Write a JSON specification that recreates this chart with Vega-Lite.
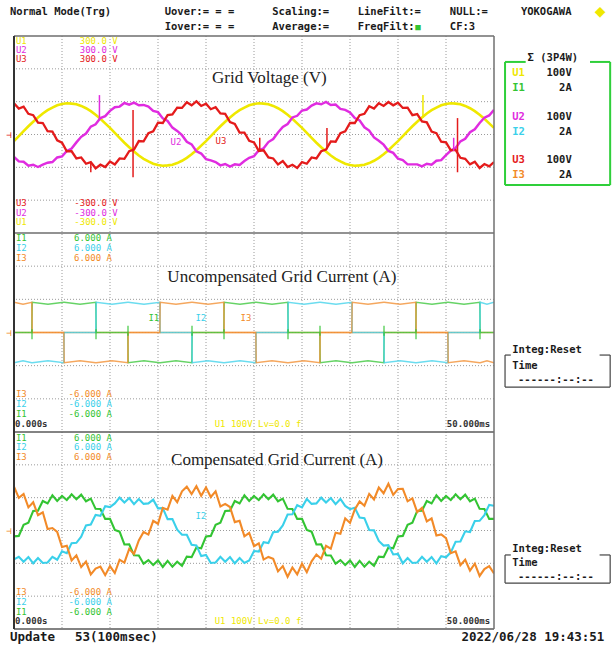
{
"$schema": "https://vega.github.io/schema/vega-lite/v6.json",
"width": 480,
"height": 593,
"autosize": {"type": "none"},
"padding": {"left": 14, "top": 36, "right": 119, "bottom": 18},
"background": "#ffffff",
"config": {"view": {"stroke": null}},
"datasets": {
"volt": [
{"t":0,"U1":-20,"U2":-68,"U3":95},{"t":0.5,"U1":-5,"U2":-82,"U3":79},{"t":1,"U1":10,"U2":-83,"U3":85},{"t":1.5,"U1":25,"U2":-95,"U3":63},{"t":2,"U1":39,"U2":-92,"U3":59},
{"t":2.5,"U1":52,"U2":-99,"U3":36},{"t":3,"U1":64,"U2":-92,"U3":35},{"t":3.5,"U1":74,"U2":-86,"U3":10},{"t":4,"U1":82,"U2":-84,"U3":9},{"t":4.5,"U1":89,"U2":-70,"U3":-18},
{"t":5,"U1":93,"U2":-67,"U3":-25},{"t":5.5,"U1":95,"U2":-50,"U3":-51},{"t":6,"U1":94,"U2":-43,"U3":-51},{"t":6.5,"U1":92,"U2":-24,"U3":-73},{"t":7,"U1":87,"U2":-7,"U3":-70},
{"t":7.5,"U1":80,"U2":3,"U3":-89},{"t":8,"U1":71,"U2":24,"U3":-84},{"t":8.5,"U1":60,"U2":31,"U3":-103},{"t":9,"U1":48,"U2":50,"U3":-92},{"t":9.5,"U1":34,"U2":56,"U3":-99},
{"t":10,"U1":20,"U2":72,"U3":-82},{"t":10.5,"U1":5,"U2":83,"U3":-91},{"t":11,"U1":-10,"U2":85,"U3":-73},{"t":11.5,"U1":-25,"U2":96,"U3":-74},{"t":12,"U1":-39,"U2":91,"U3":-51},
{"t":12.5,"U1":-52,"U2":97,"U3":-46},{"t":13,"U1":-64,"U2":89,"U3":-20},{"t":13.5,"U1":-74,"U2":90,"U3":-21},{"t":14,"U1":-82,"U2":85,"U3":4},{"t":14.5,"U1":-89,"U2":72,"U3":10},
{"t":15,"U1":-93,"U2":68,"U3":36},{"t":15.5,"U1":-95,"U2":49,"U3":35},{"t":16,"U1":-94,"U2":41,"U3":59},{"t":16.5,"U1":-92,"U2":21,"U3":61},{"t":17,"U1":-87,"U2":11,"U3":82},
{"t":17.5,"U1":-80,"U2":-2,"U3":81},{"t":18,"U1":-71,"U2":-22,"U3":98},{"t":18.5,"U1":-60,"U2":-30,"U3":89},{"t":19,"U1":-48,"U2":-51,"U3":101},{"t":19.5,"U1":-34,"U2":-58,"U3":87},
{"t":20,"U1":-20,"U2":-75,"U3":94},{"t":20.5,"U1":-5,"U2":-79,"U3":77},{"t":21,"U1":10,"U2":-84,"U3":83},{"t":21.5,"U1":25,"U2":-94,"U3":64},{"t":22,"U1":39,"U2":-90,"U3":63},
{"t":22.5,"U1":52,"U2":-98,"U3":38},{"t":23,"U1":64,"U2":-91,"U3":32},{"t":23.5,"U1":74,"U2":-93,"U3":6},{"t":24,"U1":82,"U2":-81,"U3":6},{"t":24.5,"U1":89,"U2":-71,"U3":-19},
{"t":25,"U1":93,"U2":-66,"U3":-24},{"t":25.5,"U1":95,"U2":-48,"U3":-50},{"t":26,"U1":94,"U2":-42,"U3":-48},{"t":26.5,"U1":92,"U2":-23,"U3":-70},{"t":27,"U1":87,"U2":-14,"U3":-73},
{"t":27.5,"U1":80,"U2":6,"U3":-91},{"t":28,"U1":71,"U2":23,"U3":-81},{"t":28.5,"U1":60,"U2":32,"U3":-99},{"t":29,"U1":48,"U2":52,"U3":-92},{"t":29.5,"U1":34,"U2":57,"U3":-102},
{"t":30,"U1":20,"U2":73,"U3":-84},{"t":30.5,"U1":5,"U2":76,"U3":-89},{"t":31,"U1":-10,"U2":88,"U3":-70},{"t":31.5,"U1":-25,"U2":95,"U3":-73},{"t":32,"U1":-39,"U2":92,"U3":-51},
{"t":32.5,"U1":-52,"U2":99,"U3":-46},{"t":33,"U1":-64,"U2":90,"U3":-21},{"t":33.5,"U1":-74,"U2":91,"U3":-22},{"t":34,"U1":-82,"U2":78,"U3":4},{"t":34.5,"U1":-89,"U2":75,"U3":10},
{"t":35,"U1":-93,"U2":67,"U3":35},{"t":35.5,"U1":-95,"U2":50,"U3":35},{"t":36,"U1":-94,"U2":43,"U3":59},{"t":36.5,"U1":-92,"U2":22,"U3":63},{"t":37,"U1":-87,"U2":12,"U3":86},
{"t":37.5,"U1":-80,"U2":-9,"U3":79},{"t":38,"U1":-71,"U2":-19,"U3":95},{"t":38.5,"U1":-60,"U2":-31,"U3":87},{"t":39,"U1":-48,"U2":-50,"U3":99},{"t":39.5,"U1":-34,"U2":-56,"U3":89},
{"t":40,"U1":-20,"U2":-74,"U3":97},{"t":40.5,"U1":-5,"U2":-78,"U3":81},{"t":41,"U1":10,"U2":-91,"U3":82},{"t":41.5,"U1":25,"U2":-91,"U3":59},{"t":42,"U1":39,"U2":-91,"U3":62},
{"t":42.5,"U1":52,"U2":-97,"U3":40},{"t":43,"U1":64,"U2":-89,"U3":37},{"t":43.5,"U1":74,"U2":-92,"U3":9},{"t":44,"U1":82,"U2":-80,"U3":4},{"t":44.5,"U1":89,"U2":-78,"U3":-22},
{"t":45,"U1":93,"U2":-63,"U3":-24},{"t":45.5,"U1":95,"U2":-49,"U3":-48},{"t":46,"U1":94,"U2":-41,"U3":-47},{"t":46.5,"U1":92,"U2":-21,"U3":-71},{"t":47,"U1":87,"U2":-13,"U3":-74},
{"t":47.5,"U1":80,"U2":7,"U3":-91},{"t":48,"U1":71,"U2":16,"U3":-83},{"t":48.5,"U1":60,"U2":35,"U3":-102},{"t":49,"U1":48,"U2":51,"U3":-90},{"t":49.5,"U1":34,"U2":58,"U3":-97},
{"t":50,"U1":20,"U2":75,"U3":-84}
],
"comp": [
{"t":0,"I1":-0.36,"I2":-1.76,"I3":2.67},{"t":0.5,"I1":-0.33,"I2":-1.6,"I3":1.99},{"t":1,"I1":0.35,"I2":-1.9,"I3":2.23},{"t":1.5,"I1":0.48,"I2":-1.62,"I3":1.41},{"t":2,"I1":1.19,"I2":-2.0,"I3":1.72},
{"t":2.5,"I1":1.21,"I2":-1.68,"I3":0.93},{"t":3,"I1":1.8,"I2":-1.98,"I3":1.11},{"t":3.5,"I1":1.65,"I2":-1.95,"I3":0.09},{"t":4,"I1":2.15,"I2":-1.6,"I3":0.15},{"t":4.5,"I1":1.8,"I2":-1.78,"I3":-0.09},
{"t":5,"I1":2.1,"I2":-1.27,"I3":-1.01},{"t":5.5,"I1":1.85,"I2":-1.38,"I3":-0.93},{"t":6,"I1":2.2,"I2":-0.77,"I3":-1.82},{"t":6.5,"I1":1.9,"I2":-0.75,"I3":-1.51},{"t":7,"I1":2.18,"I2":-0.38,"I3":-2.23},
{"t":7.5,"I1":1.78,"I2":0.31,"I3":-1.89},{"t":8,"I1":1.94,"I2":0.36,"I3":-2.67},{"t":8.5,"I1":1.32,"I2":0.95,"I3":-2.32},{"t":9,"I1":1.31,"I2":0.89,"I3":-2.2},{"t":9.5,"I1":0.71,"I2":1.48,"I3":-2.72},
{"t":10,"I1":0.71,"I2":1.43,"I3":-2.17},{"t":10.5,"I1":0.03,"I2":1.65,"I3":-2.59},{"t":11,"I1":-0.07,"I2":2.0,"I3":-1.78},{"t":11.5,"I1":-0.85,"I2":1.7,"I3":-1.96},{"t":12,"I1":-0.84,"I2":1.98,"I3":-1.12},
{"t":12.5,"I1":-1.51,"I2":1.6,"I3":-1.43},{"t":13,"I1":-1.52,"I2":1.92,"I3":-0.61},{"t":13.5,"I1":-2.02,"I2":1.62,"I3":-0.09},{"t":14,"I1":-1.8,"I2":1.65,"I3":-0.25},{"t":14.5,"I1":-2.1,"I2":1.88,"I3":0.59},
{"t":15,"I1":-1.82,"I2":1.35,"I3":0.41},{"t":15.5,"I1":-2.22,"I2":1.36,"I3":1.38},{"t":16,"I1":-1.85,"I2":0.69,"I3":1.27},{"t":16.5,"I1":-2.2,"I2":0.69,"I3":2.11},{"t":17,"I1":-1.9,"I2":0.05,"I3":1.73},
{"t":17.5,"I1":-2.15,"I2":-0.26,"I3":2.39},{"t":18,"I1":-1.59,"I2":-0.26,"I3":2.67},{"t":18.5,"I1":-1.62,"I2":-0.87,"I3":2.22},{"t":19,"I1":-1.03,"I2":-0.91,"I3":2.7},{"t":19.5,"I1":-1.08,"I2":-1.56,"I3":2.12},
{"t":20,"I1":-0.36,"I2":-1.49,"I3":2.62},{"t":20.5,"I1":-0.33,"I2":-1.98,"I3":2.04},{"t":21,"I1":0.35,"I2":-1.95,"I3":2.38},{"t":21.5,"I1":0.48,"I2":-1.6,"I3":1.46},{"t":22,"I1":1.19,"I2":-1.9,"I3":1.62},
{"t":22.5,"I1":1.21,"I2":-1.62,"I3":1.43},{"t":23,"I1":1.8,"I2":-2.0,"I3":0.51},{"t":23.5,"I1":1.65,"I2":-1.68,"I3":0.59},{"t":24,"I1":2.15,"I2":-1.98,"I3":-0.35},{"t":24.5,"I1":1.8,"I2":-1.83,"I3":-0.14},
{"t":25,"I1":2.1,"I2":-1.25,"I3":-0.96},{"t":25.5,"I1":1.85,"I2":-1.28,"I3":-0.78},{"t":26,"I1":2.2,"I2":-0.71,"I3":-1.77},{"t":26.5,"I1":1.9,"I2":-0.77,"I3":-1.61},{"t":27,"I1":2.18,"I2":-0.11,"I3":-1.73},
{"t":27.5,"I1":1.78,"I2":-0.07,"I3":-2.49},{"t":28,"I1":1.94,"I2":0.31,"I3":-2.17},{"t":28.5,"I1":1.32,"I2":0.97,"I3":-2.82},{"t":29,"I1":1.31,"I2":0.99,"I3":-2.25},{"t":29.5,"I1":0.71,"I2":1.54,"I3":-2.67},
{"t":30,"I1":0.71,"I2":1.41,"I3":-2.02},{"t":30.5,"I1":0.03,"I2":1.92,"I3":-2.54},{"t":31,"I1":-0.07,"I2":1.62,"I3":-1.88},{"t":31.5,"I1":-0.85,"I2":1.65,"I3":-1.46},{"t":32,"I1":-0.84,"I2":2.0,"I3":-1.72},
{"t":32.5,"I1":-1.51,"I2":1.7,"I3":-0.93},{"t":33,"I1":-1.52,"I2":1.98,"I3":-1.11},{"t":33.5,"I1":-2.02,"I2":1.6,"I3":-0.14},{"t":34,"I1":-1.8,"I2":1.92,"I3":-0.2},{"t":34.5,"I1":-2.1,"I2":1.5,"I3":0.74},
{"t":35,"I1":-1.82,"I2":1.3,"I3":0.46},{"t":35.5,"I1":-2.22,"I2":1.38,"I3":1.28},{"t":36,"I1":-1.85,"I2":0.79,"I3":1.77},{"t":36.5,"I1":-2.2,"I2":0.75,"I3":1.51},{"t":37,"I1":-1.9,"I2":0.03,"I3":2.23},
{"t":37.5,"I1":-2.15,"I2":0.01,"I3":1.89},{"t":38,"I1":-1.59,"I2":-0.64,"I3":2.62},{"t":38.5,"I1":-1.62,"I2":-0.92,"I3":2.27},{"t":39,"I1":-1.03,"I2":-0.89,"I3":2.85},{"t":39.5,"I1":-1.08,"I2":-1.46,"I3":2.17},
{"t":40,"I1":-0.36,"I2":-1.43,"I3":2.52},{"t":40.5,"I1":-0.33,"I2":-2.0,"I3":2.54},{"t":41,"I1":0.35,"I2":-1.68,"I3":1.78},{"t":41.5,"I1":0.48,"I2":-1.98,"I3":1.96},{"t":42,"I1":1.19,"I2":-1.95,"I3":1.12},
{"t":42.5,"I1":1.21,"I2":-1.6,"I3":1.38},{"t":43,"I1":1.8,"I2":-1.9,"I3":0.56},{"t":43.5,"I1":1.65,"I2":-1.62,"I3":0.74},{"t":44,"I1":2.15,"I2":-2.0,"I3":-0.3},{"t":44.5,"I1":1.8,"I2":-1.56,"I3":-0.24},
{"t":45,"I1":2.1,"I2":-1.63,"I3":-0.46},{"t":45.5,"I1":1.85,"I2":-1.33,"I3":-1.38},{"t":46,"I1":2.2,"I2":-0.69,"I3":-1.27},{"t":46.5,"I1":1.9,"I2":-0.67,"I3":-2.11},{"t":47,"I1":2.18,"I2":-0.05,"I3":-1.78},
{"t":47.5,"I1":1.78,"I2":-0.09,"I3":-2.44},{"t":48,"I1":1.94,"I2":0.58,"I3":-2.02},{"t":48.5,"I1":1.32,"I2":0.59,"I3":-2.77},{"t":49,"I1":1.31,"I2":0.94,"I3":-2.35},{"t":49.5,"I1":0.71,"I2":1.56,"I3":-2.17},
{"t":50,"I1":0.71,"I2":1.51,"I3":-2.62}
],
"uncomp": [
{"t":0,"I1":0,"I2":-1.82,"I3":1.82},{"t":0.94,"I1":0,"I2":-1.7,"I3":1.7},{"t":1.855,"I1":0,"I2":-1.82,"I3":1.82},
{"t":1.895,"I1":1.82,"I2":-1.82,"I3":0},{"t":3.54,"I1":1.7,"I2":-1.7,"I3":0},{"t":5.188,"I1":1.82,"I2":-1.82,"I3":0},
{"t":5.228,"I1":1.82,"I2":0,"I3":-1.82},{"t":6.875,"I1":1.7,"I2":0,"I3":-1.7},{"t":8.522,"I1":1.82,"I2":0,"I3":-1.82},
{"t":8.562,"I1":0,"I2":1.82,"I3":-1.82},{"t":10.21,"I1":0,"I2":1.7,"I3":-1.7},{"t":11.855,"I1":0,"I2":1.82,"I3":-1.82},
{"t":11.895,"I1":-1.82,"I2":1.82,"I3":0},{"t":13.54,"I1":-1.7,"I2":1.7,"I3":0},{"t":15.188,"I1":-1.82,"I2":1.82,"I3":0},
{"t":15.228,"I1":-1.82,"I2":0,"I3":1.82},{"t":16.875,"I1":-1.7,"I2":0,"I3":1.7},{"t":18.522,"I1":-1.82,"I2":0,"I3":1.82},
{"t":18.562,"I1":0,"I2":-1.82,"I3":1.82},{"t":20.21,"I1":0,"I2":-1.7,"I3":1.7},{"t":21.855,"I1":0,"I2":-1.82,"I3":1.82},
{"t":21.895,"I1":1.82,"I2":-1.82,"I3":0},{"t":23.54,"I1":1.7,"I2":-1.7,"I3":0},{"t":25.188,"I1":1.82,"I2":-1.82,"I3":0},
{"t":25.228,"I1":1.82,"I2":0,"I3":-1.82},{"t":26.875,"I1":1.7,"I2":0,"I3":-1.7},{"t":28.522,"I1":1.82,"I2":0,"I3":-1.82},
{"t":28.562,"I1":0,"I2":1.82,"I3":-1.82},{"t":30.21,"I1":0,"I2":1.7,"I3":-1.7},{"t":31.855,"I1":0,"I2":1.82,"I3":-1.82},
{"t":31.895,"I1":-1.82,"I2":1.82,"I3":0},{"t":33.54,"I1":-1.7,"I2":1.7,"I3":0},{"t":35.188,"I1":-1.82,"I2":1.82,"I3":0},
{"t":35.228,"I1":-1.82,"I2":0,"I3":1.82},{"t":36.875,"I1":-1.7,"I2":0,"I3":1.7},{"t":38.522,"I1":-1.82,"I2":0,"I3":1.82},
{"t":38.562,"I1":0,"I2":-1.82,"I3":1.82},{"t":40.21,"I1":0,"I2":-1.7,"I3":1.7},{"t":41.855,"I1":0,"I2":-1.82,"I3":1.82},
{"t":41.895,"I1":1.82,"I2":-1.82,"I3":0},{"t":43.54,"I1":1.7,"I2":-1.7,"I3":0},{"t":45.188,"I1":1.82,"I2":-1.82,"I3":0},
{"t":45.228,"I1":1.82,"I2":0,"I3":-1.82},{"t":46.875,"I1":1.7,"I2":0,"I3":-1.7},{"t":48.522,"I1":1.82,"I2":0,"I3":-1.82},
{"t":48.562,"I1":0,"I2":1.82,"I3":-1.82},{"t":49.27,"I1":0,"I2":1.7,"I3":-1.7},{"t":50,"I1":0,"I2":1.82,"I3":-1.82}
],
"ispk": [
{"t":1.875,"ch":"I1","y":-0.4,"y2":0.2},
{"t":8.542,"ch":"I1","y":-0.4,"y2":0.2},
{"t":11.875,"ch":"I1","y":0.4,"y2":-0.2},
{"t":18.542,"ch":"I1","y":0.4,"y2":-0.2},
{"t":21.875,"ch":"I1","y":-0.4,"y2":0.2},
{"t":28.542,"ch":"I1","y":-0.4,"y2":0.2},
{"t":31.875,"ch":"I1","y":0.4,"y2":-0.2},
{"t":38.542,"ch":"I1","y":0.4,"y2":-0.2},
{"t":41.875,"ch":"I1","y":-0.4,"y2":0.2},
{"t":48.542,"ch":"I1","y":-0.4,"y2":0.2}
],
"vspk": [
{"t":12.4,"ch":"U3","y":75,"y2":-130},
{"t":8.9,"ch":"U2","y":45,"y2":120},
{"t":42.6,"ch":"U1","y":50,"y2":120},
{"t":46.2,"ch":"U3","y":50,"y2":-115},
{"t":45.8,"ch":"U2","y":-10,"y2":-50},
{"t":32.6,"ch":"U3","y":-45,"y2":20},
{"t":8.0,"ch":"U3","y":-84,"y2":-115},
{"t":25.6,"ch":"U3","y":-50,"y2":-10}
],
"hdr": [
{"txt":"Normal Mode(Trg)","t":-0.42,"y":373},
{"txt":"Uover:= = =","t":15.7,"y":373},
{"txt":"Iover:= = =","t":15.7,"y":327},
{"txt":"Scaling:=","t":26.9,"y":373},
{"txt":"Average:=","t":26.9,"y":327},
{"txt":"LineFilt:=","t":35.8,"y":373},
{"txt":"FreqFilt:","t":35.8,"y":327},
{"txt":"NULL:=","t":45.4,"y":373},
{"txt":"CF:3","t":45.4,"y":327},
{"txt":"YOKOGAWA","t":52.8,"y":373},
{"txt":"Σ (3P4W)","t":53.5,"y":234}
],
"p1c": [
{"ch":"U1","txt":"U1","t":0.2,"y":286},{"ch":"U2","txt":"U2","t":0.2,"y":257},{"ch":"U3","txt":"U3","t":0.2,"y":230},
{"ch":"U3","txt":"U3","t":0.2,"y":-209},{"ch":"U2","txt":"U2","t":0.2,"y":-239},{"ch":"U1","txt":"U1","t":0.2,"y":-267},
{"ch":"U2","txt":"U2","t":16.3,"y":-23},{"ch":"U3","txt":"U3","t":21.0,"y":-20},
{"ch":"U3","txt":"⊣","t":-0.8,"y":0},
{"ch":"I1","txt":"■","t":41.8,"y":327}
],
"p1d": [{"ch":"U1","txt":"◆","t":60.5,"y":373}],
"p1v": [
{"ch":"U1","txt":"300.0 V","t":10.8,"y":286},{"ch":"U2","txt":"300.0 V","t":10.8,"y":257},{"ch":"U3","txt":"300.0 V","t":10.8,"y":230},
{"ch":"U3","txt":"-300.0 V","t":10.8,"y":-209},{"ch":"U2","txt":"-300.0 V","t":10.8,"y":-239},{"ch":"U1","txt":"-300.0 V","t":10.8,"y":-267}
],
"p1leg": [
{"ch":"U1","txt":"U1","t":51.9,"y":187},{"ch":"I1","txt":"I1","t":51.9,"y":142},
{"ch":"U2","txt":"U2","t":51.9,"y":53},{"ch":"I2","txt":"I2","t":51.9,"y":8},
{"ch":"U3","txt":"U3","t":51.9,"y":-78},{"ch":"I3","txt":"I3","t":51.9,"y":-123}
],
"p1legv": [
{"txt":"100V","t":58.1,"y":187},{"txt":"2A","t":58.1,"y":142},
{"txt":"100V","t":58.1,"y":53},{"txt":"2A","t":58.1,"y":8},
{"txt":"100V","t":58.1,"y":-78},{"txt":"2A","t":58.1,"y":-123}
],
"box1": [
{"t":51.15,"t2":51.15,"y":221,"y2":-154},
{"t":62.1,"t2":62.1,"y":221,"y2":-154},
{"t":51.15,"t2":62.1,"y":-154,"y2":-154},
{"t":51.15,"t2":53.3,"y":221,"y2":221},
{"t":60.0,"t2":62.1,"y":221,"y2":221}
],
"p2c": [
{"ch":"I1","txt":"I1","t":0.2,"y":5.7},{"ch":"I2","txt":"I2","t":0.2,"y":5.1},{"ch":"I3","txt":"I3","t":0.2,"y":4.49},
{"ch":"I3","txt":"I3","t":0.2,"y":-3.71},{"ch":"I2","txt":"I2","t":0.2,"y":-4.31},{"ch":"I1","txt":"I1","t":0.2,"y":-4.91},
{"ch":"I1","txt":"I1","t":14.0,"y":0.87},{"ch":"I2","txt":"I2","t":18.9,"y":0.87},{"ch":"I3","txt":"I3","t":23.6,"y":0.87},
{"ch":"I3","txt":"⊣","t":-0.8,"y":0},
{"ch":"U1","txt":"U1 100V  Lv=0.0 f","t":20.9,"y":-5.52}
],
"p2v": [
{"ch":"I1","txt":"6.000 A","t":10.2,"y":5.7},{"ch":"I2","txt":"6.000 A","t":10.2,"y":5.1},{"ch":"I3","txt":"6.000 A","t":10.2,"y":4.49},
{"ch":"I3","txt":"-6.000 A","t":10.2,"y":-3.71},{"ch":"I2","txt":"-6.000 A","t":10.2,"y":-4.31},{"ch":"I1","txt":"-6.000 A","t":10.2,"y":-4.91}
],
"p2kl": [{"txt":"0.000s","t":0.1,"y":-5.52}],
"p2kr": [{"txt":"50.000ms","t":49.6,"y":-5.52}],
"p2bt": [
{"txt":"Integ:Reset","t":51.9,"y":-1.06},{"txt":"Time","t":51.9,"y":-2.02},{"txt":"------:--:--","t":52.5,"y":-2.86}
],
"box2": [
{"t":51.15,"t2":51.15,"y":-1.36,"y2":-3.29},
{"t":62.1,"t2":62.1,"y":-1.36,"y2":-3.29},
{"t":51.15,"t2":62.1,"y":-3.29,"y2":-3.29},
{"t":51.15,"t2":51.75,"y":-1.36,"y2":-1.36},
{"t":61.0,"t2":62.1,"y":-1.36,"y2":-1.36}
],
"p3c": [
{"ch":"I1","txt":"I1","t":0.2,"y":5.63},{"ch":"I2","txt":"I2","t":0.2,"y":5.09},{"ch":"I3","txt":"I3","t":0.2,"y":4.48},
{"ch":"I3","txt":"I3","t":0.2,"y":-3.75},{"ch":"I2","txt":"I2","t":0.2,"y":-4.36},{"ch":"I1","txt":"I1","t":0.2,"y":-4.96},
{"ch":"I2","txt":"I2","t":18.9,"y":0.88},
{"ch":"I3","txt":"⊣","t":-0.8,"y":0},
{"ch":"U1","txt":"U1 100V  Lv=0.0 f","t":20.9,"y":-5.51}
],
"p3v": [
{"ch":"I1","txt":"6.000 A","t":10.2,"y":5.63},{"ch":"I2","txt":"6.000 A","t":10.2,"y":5.09},{"ch":"I3","txt":"6.000 A","t":10.2,"y":4.48},
{"ch":"I3","txt":"-6.000 A","t":10.2,"y":-3.75},{"ch":"I2","txt":"-6.000 A","t":10.2,"y":-4.36},{"ch":"I1","txt":"-6.000 A","t":10.2,"y":-4.96}
],
"p3kl": [{"txt":"0.000s","t":0.1,"y":-5.51}],
"p3kr": [{"txt":"50.000ms","t":49.6,"y":-5.51}],
"p3bt": [
{"txt":"Integ:Reset","t":51.9,"y":-1.13},{"txt":"Time","t":51.9,"y":-1.98},{"txt":"------:--:--","t":52.5,"y":-2.83}
],
"box3": [
{"t":51.15,"t2":51.15,"y":-1.49,"y2":-3.2},
{"t":62.1,"t2":62.1,"y":-1.49,"y2":-3.2},
{"t":51.15,"t2":62.1,"y":-3.2,"y2":-3.2},
{"t":51.15,"t2":51.75,"y":-1.49,"y2":-1.49},
{"t":61.0,"t2":62.1,"y":-1.49,"y2":-1.49}
],
"footl": [{"txt":"Update","t":-0.42,"y":-6.49},{"txt":"53(100msec)","t":6.35,"y":-6.49}],
"footr": [{"txt":"2022/06/28 19:43:51","t":61.5,"y":-6.49}]
},
"layer": [
{
"data": {"values": [{"t":5},{"t":10},{"t":15},{"t":20},{"t":25},{"t":30},{"t":35},{"t":40},{"t":45}]},
"mark": {"type": "rule", "color": "#9a9a9a", "strokeDash": [1, 2], "strokeWidth": 1},
"encoding": {"x": {"field": "t", "type": "quantitative", "scale": {"domain": [0, 50], "nice": false, "zero": false}, "axis": null}}
},
{
"encoding": {"y": {"field": "y", "type": "quantitative", "scale": {"domain": [-300, 300], "range": [197, 0], "nice": false, "zero": false}, "axis": null}},
"layer": [
{"data": {"values": [{"y":-200},{"y":-100},{"y":0},{"y":100},{"y":200}]},
 "mark": {"type": "rule", "color": "#9a9a9a", "strokeDash": [1, 2], "strokeWidth": 1}, "encoding": {}},
{"data": {"name": "volt"}, "transform": [{"fold": ["U1", "U2", "U3"], "as": ["ch", "y"]}],
 "mark": {"type": "line", "clip": true},
 "encoding": {"x": {"field": "t", "type": "quantitative", "scale": {"domain": [0, 50], "nice": false, "zero": false}, "axis": null},
  "strokeWidth": {"field": "ch", "type": "nominal", "scale": {"domain": ["U1","U2","U3"], "range": [2.6, 2.3, 2.6]}, "legend": null},
  "color": {"field": "ch", "type": "nominal", "scale": {"domain": ["U1","U2","U3","I1","I2","I3"], "range": ["#efe800","#e02ce0","#e41b1b","#33c433","#3ad0ea","#f28a28"]}, "legend": null}}},
{"data": {"name": "vspk"}, "mark": {"type": "rule", "strokeWidth": 1.5},
 "encoding": {"x": {"field": "t", "type": "quantitative", "scale": {"domain": [0, 50], "nice": false, "zero": false}, "axis": null},
  "y2": {"field": "y2"},
  "color": {"field": "ch", "type": "nominal", "scale": {"domain": ["U1","U2","U3","I1","I2","I3"], "range": ["#efe800","#e02ce0","#e41b1b","#33c433","#3ad0ea","#f28a28"]}, "legend": null}}},
{"data": {"values": [{"y":300},{"y":-300}]}, "mark": {"type": "rule", "color": "#6e6e6e", "strokeWidth": 1.6}, "encoding": {}},
{"data": {"name": "box1"}, "mark": {"type": "rule", "color": "#2fcf3a", "strokeWidth": 2},
 "encoding": {"x": {"field": "t", "type": "quantitative", "scale": {"domain": [0, 50], "nice": false, "zero": false}, "axis": null},
  "x2": {"field": "t2"}, "y2": {"field": "y2"}}},
{"data": {"values": [{"txt":"Grid Voltage (V)","t":26.6,"y":172}]},
 "mark": {"type": "text", "align": "center", "baseline": "middle", "font": "Liberation Serif", "fontSize": 17, "color": "#222222"},
 "encoding": {"x": {"field": "t", "type": "quantitative", "scale": {"domain": [0, 50], "nice": false, "zero": false}, "axis": null}, "text": {"field": "txt"}}},
{"data": {"name": "p1c"},
 "mark": {"type": "text", "align": "left", "baseline": "middle", "font": "DejaVu Sans Mono", "fontSize": 9},
 "encoding": {"x": {"field": "t", "type": "quantitative", "scale": {"domain": [0, 50], "nice": false, "zero": false}, "axis": null}, "text": {"field": "txt"},
  "color": {"field": "ch", "type": "nominal", "scale": {"domain": ["U1","U2","U3","I1","I2","I3"], "range": ["#efe800","#e02ce0","#e41b1b","#33c433","#3ad0ea","#f28a28"]}, "legend": null}}},
{"data": {"name": "p1d"},
 "mark": {"type": "text", "align": "left", "baseline": "middle", "font": "DejaVu Sans", "fontSize": 14},
 "encoding": {"x": {"field": "t", "type": "quantitative", "scale": {"domain": [0, 50], "nice": false, "zero": false}, "axis": null}, "text": {"field": "txt"},
  "color": {"field": "ch", "type": "nominal", "scale": {"domain": ["U1","U2","U3","I1","I2","I3"], "range": ["#efe800","#e02ce0","#e41b1b","#33c433","#3ad0ea","#f28a28"]}, "legend": null}}},
{"data": {"name": "p1v"},
 "mark": {"type": "text", "align": "right", "baseline": "middle", "font": "DejaVu Sans Mono", "fontSize": 9},
 "encoding": {"x": {"field": "t", "type": "quantitative", "scale": {"domain": [0, 50], "nice": false, "zero": false}, "axis": null}, "text": {"field": "txt"},
  "color": {"field": "ch", "type": "nominal", "scale": {"domain": ["U1","U2","U3","I1","I2","I3"], "range": ["#efe800","#e02ce0","#e41b1b","#33c433","#3ad0ea","#f28a28"]}, "legend": null}}},
{"data": {"name": "p1leg"},
 "mark": {"type": "text", "align": "left", "baseline": "middle", "font": "DejaVu Sans Mono", "fontSize": 10.5, "fontWeight": "bold"},
 "encoding": {"x": {"field": "t", "type": "quantitative", "scale": {"domain": [0, 50], "nice": false, "zero": false}, "axis": null}, "text": {"field": "txt"},
  "color": {"field": "ch", "type": "nominal", "scale": {"domain": ["U1","U2","U3","I1","I2","I3"], "range": ["#efe800","#e02ce0","#e41b1b","#33c433","#3ad0ea","#f28a28"]}, "legend": null}}},
{"data": {"name": "p1legv"},
 "mark": {"type": "text", "align": "right", "baseline": "middle", "font": "DejaVu Sans Mono", "fontSize": 10.5, "fontWeight": "bold", "color": "#1a1a1a"},
 "encoding": {"x": {"field": "t", "type": "quantitative", "scale": {"domain": [0, 50], "nice": false, "zero": false}, "axis": null}, "text": {"field": "txt"}}},
{"data": {"name": "hdr"},
 "mark": {"type": "text", "align": "left", "baseline": "middle", "font": "DejaVu Sans Mono", "fontSize": 10.5, "fontWeight": "bold", "color": "#1a1a1a"},
 "encoding": {"x": {"field": "t", "type": "quantitative", "scale": {"domain": [0, 50], "nice": false, "zero": false}, "axis": null}, "text": {"field": "txt"}}}
]
},
{
"encoding": {"y": {"field": "y", "type": "quantitative", "scale": {"domain": [-6, 6], "range": [396, 197], "nice": false, "zero": false}, "axis": null}},
"layer": [
{"data": {"values": [{"y":-4},{"y":-2},{"y":0},{"y":2},{"y":4}]},
 "mark": {"type": "rule", "color": "#9a9a9a", "strokeDash": [1, 2], "strokeWidth": 1}, "encoding": {}},
{"data": {"values": [{"y":0}]}, "mark": {"type": "rule", "color": "#f2a55c", "strokeWidth": 1.4, "opacity": 0.8}, "encoding": {}},
{"data": {"name": "uncomp"}, "transform": [{"fold": ["I1", "I2", "I3"], "as": ["ch", "y"]}],
 "mark": {"type": "line", "strokeWidth": 1.5, "opacity": 0.75, "clip": true},
 "encoding": {"x": {"field": "t", "type": "quantitative", "scale": {"domain": [0, 50], "nice": false, "zero": false}, "axis": null},
  "color": {"field": "ch", "type": "nominal", "scale": {"domain": ["U1","U2","U3","I1","I2","I3"], "range": ["#efe800","#e02ce0","#e41b1b","#33c433","#3ad0ea","#f28a28"]}, "legend": null}}},
{"data": {"name": "ispk"}, "mark": {"type": "rule", "strokeWidth": 1.5, "opacity": 0.75},
 "encoding": {"x": {"field": "t", "type": "quantitative", "scale": {"domain": [0, 50], "nice": false, "zero": false}, "axis": null},
  "y2": {"field": "y2"},
  "color": {"field": "ch", "type": "nominal", "scale": {"domain": ["U1","U2","U3","I1","I2","I3"], "range": ["#efe800","#e02ce0","#e41b1b","#33c433","#3ad0ea","#f28a28"]}, "legend": null}}},
{"data": {"values": [{"y":-6}]}, "mark": {"type": "rule", "color": "#5a5a5a", "strokeWidth": 1.6}, "encoding": {}},
{"data": {"name": "box2"}, "mark": {"type": "rule", "color": "#444444", "strokeWidth": 1.2},
 "encoding": {"x": {"field": "t", "type": "quantitative", "scale": {"domain": [0, 50], "nice": false, "zero": false}, "axis": null},
  "x2": {"field": "t2"}, "y2": {"field": "y2"}}},
{"data": {"values": [{"txt":"Uncompensated Grid Current (A)","t":27.9,"y":3.35}]},
 "mark": {"type": "text", "align": "center", "baseline": "middle", "font": "Liberation Serif", "fontSize": 17, "color": "#222222"},
 "encoding": {"x": {"field": "t", "type": "quantitative", "scale": {"domain": [0, 50], "nice": false, "zero": false}, "axis": null}, "text": {"field": "txt"}}},
{"data": {"name": "p2c"},
 "mark": {"type": "text", "align": "left", "baseline": "middle", "font": "DejaVu Sans Mono", "fontSize": 9},
 "encoding": {"x": {"field": "t", "type": "quantitative", "scale": {"domain": [0, 50], "nice": false, "zero": false}, "axis": null}, "text": {"field": "txt"},
  "color": {"field": "ch", "type": "nominal", "scale": {"domain": ["U1","U2","U3","I1","I2","I3"], "range": ["#efe800","#e02ce0","#e41b1b","#33c433","#3ad0ea","#f28a28"]}, "legend": null}}},
{"data": {"name": "p2v"},
 "mark": {"type": "text", "align": "right", "baseline": "middle", "font": "DejaVu Sans Mono", "fontSize": 9},
 "encoding": {"x": {"field": "t", "type": "quantitative", "scale": {"domain": [0, 50], "nice": false, "zero": false}, "axis": null}, "text": {"field": "txt"},
  "color": {"field": "ch", "type": "nominal", "scale": {"domain": ["U1","U2","U3","I1","I2","I3"], "range": ["#efe800","#e02ce0","#e41b1b","#33c433","#3ad0ea","#f28a28"]}, "legend": null}}},
{"data": {"name": "p2kl"},
 "mark": {"type": "text", "align": "left", "baseline": "middle", "font": "DejaVu Sans Mono", "fontSize": 9, "fontWeight": "bold", "color": "#333333"},
 "encoding": {"x": {"field": "t", "type": "quantitative", "scale": {"domain": [0, 50], "nice": false, "zero": false}, "axis": null}, "text": {"field": "txt"}}},
{"data": {"name": "p2kr"},
 "mark": {"type": "text", "align": "right", "baseline": "middle", "font": "DejaVu Sans Mono", "fontSize": 9, "fontWeight": "bold", "color": "#333333"},
 "encoding": {"x": {"field": "t", "type": "quantitative", "scale": {"domain": [0, 50], "nice": false, "zero": false}, "axis": null}, "text": {"field": "txt"}}},
{"data": {"name": "p2bt"},
 "mark": {"type": "text", "align": "left", "baseline": "middle", "font": "DejaVu Sans Mono", "fontSize": 10.5, "fontWeight": "bold", "color": "#1a1a1a"},
 "encoding": {"x": {"field": "t", "type": "quantitative", "scale": {"domain": [0, 50], "nice": false, "zero": false}, "axis": null}, "text": {"field": "txt"}}}
]
},
{
"encoding": {"y": {"field": "y", "type": "quantitative", "scale": {"domain": [-6, 6], "range": [593, 396], "nice": false, "zero": false}, "axis": null}},
"layer": [
{"data": {"values": [{"y":-4},{"y":-2},{"y":0},{"y":2},{"y":4}]},
 "mark": {"type": "rule", "color": "#9a9a9a", "strokeDash": [1, 2], "strokeWidth": 1}, "encoding": {}},
{"data": {"name": "comp"}, "transform": [{"fold": ["I1", "I2", "I3"], "as": ["ch", "y"]}],
 "mark": {"type": "line", "strokeWidth": 2.1, "clip": true},
 "encoding": {"x": {"field": "t", "type": "quantitative", "scale": {"domain": [0, 50], "nice": false, "zero": false}, "axis": null},
  "color": {"field": "ch", "type": "nominal", "scale": {"domain": ["U1","U2","U3","I1","I2","I3"], "range": ["#efe800","#e02ce0","#e41b1b","#33c433","#3ad0ea","#f28a28"]}, "legend": null}}},
{"data": {"values": [{"y":-6}]}, "mark": {"type": "rule", "color": "#5a5a5a", "strokeWidth": 1.6}, "encoding": {}},
{"data": {"name": "box3"}, "mark": {"type": "rule", "color": "#444444", "strokeWidth": 1.2},
 "encoding": {"x": {"field": "t", "type": "quantitative", "scale": {"domain": [0, 50], "nice": false, "zero": false}, "axis": null},
  "x2": {"field": "t2"}, "y2": {"field": "y2"}}},
{"data": {"values": [{"txt":"Compensated Grid Current (A)","t":27.4,"y":4.3}]},
 "mark": {"type": "text", "align": "center", "baseline": "middle", "font": "Liberation Serif", "fontSize": 17, "color": "#222222"},
 "encoding": {"x": {"field": "t", "type": "quantitative", "scale": {"domain": [0, 50], "nice": false, "zero": false}, "axis": null}, "text": {"field": "txt"}}},
{"data": {"name": "p3c"},
 "mark": {"type": "text", "align": "left", "baseline": "middle", "font": "DejaVu Sans Mono", "fontSize": 9},
 "encoding": {"x": {"field": "t", "type": "quantitative", "scale": {"domain": [0, 50], "nice": false, "zero": false}, "axis": null}, "text": {"field": "txt"},
  "color": {"field": "ch", "type": "nominal", "scale": {"domain": ["U1","U2","U3","I1","I2","I3"], "range": ["#efe800","#e02ce0","#e41b1b","#33c433","#3ad0ea","#f28a28"]}, "legend": null}}},
{"data": {"name": "p3v"},
 "mark": {"type": "text", "align": "right", "baseline": "middle", "font": "DejaVu Sans Mono", "fontSize": 9},
 "encoding": {"x": {"field": "t", "type": "quantitative", "scale": {"domain": [0, 50], "nice": false, "zero": false}, "axis": null}, "text": {"field": "txt"},
  "color": {"field": "ch", "type": "nominal", "scale": {"domain": ["U1","U2","U3","I1","I2","I3"], "range": ["#efe800","#e02ce0","#e41b1b","#33c433","#3ad0ea","#f28a28"]}, "legend": null}}},
{"data": {"name": "p3kl"},
 "mark": {"type": "text", "align": "left", "baseline": "middle", "font": "DejaVu Sans Mono", "fontSize": 9, "fontWeight": "bold", "color": "#333333"},
 "encoding": {"x": {"field": "t", "type": "quantitative", "scale": {"domain": [0, 50], "nice": false, "zero": false}, "axis": null}, "text": {"field": "txt"}}},
{"data": {"name": "p3kr"},
 "mark": {"type": "text", "align": "right", "baseline": "middle", "font": "DejaVu Sans Mono", "fontSize": 9, "fontWeight": "bold", "color": "#333333"},
 "encoding": {"x": {"field": "t", "type": "quantitative", "scale": {"domain": [0, 50], "nice": false, "zero": false}, "axis": null}, "text": {"field": "txt"}}},
{"data": {"name": "p3bt"},
 "mark": {"type": "text", "align": "left", "baseline": "middle", "font": "DejaVu Sans Mono", "fontSize": 10.5, "fontWeight": "bold", "color": "#1a1a1a"},
 "encoding": {"x": {"field": "t", "type": "quantitative", "scale": {"domain": [0, 50], "nice": false, "zero": false}, "axis": null}, "text": {"field": "txt"}}},
{"data": {"name": "footl"},
 "mark": {"type": "text", "align": "left", "baseline": "middle", "font": "DejaVu Sans Mono", "fontSize": 12.5, "fontWeight": "bold", "color": "#1a1a1a"},
 "encoding": {"x": {"field": "t", "type": "quantitative", "scale": {"domain": [0, 50], "nice": false, "zero": false}, "axis": null}, "text": {"field": "txt"}}},
{"data": {"name": "footr"},
 "mark": {"type": "text", "align": "right", "baseline": "middle", "font": "DejaVu Sans Mono", "fontSize": 12.5, "fontWeight": "bold", "color": "#1a1a1a"},
 "encoding": {"x": {"field": "t", "type": "quantitative", "scale": {"domain": [0, 50], "nice": false, "zero": false}, "axis": null}, "text": {"field": "txt"}}}
]
},
{
"data": {"values": [{"t":0}]},
"mark": {"type": "rule", "color": "#333333", "strokeWidth": 2},
"encoding": {"x": {"field": "t", "type": "quantitative", "scale": {"domain": [0, 50], "nice": false, "zero": false}, "axis": null}}
},
{
"data": {"values": [{"t":50}]},
"mark": {"type": "rule", "color": "#707070", "strokeWidth": 1.5},
"encoding": {"x": {"field": "t", "type": "quantitative", "scale": {"domain": [0, 50], "nice": false, "zero": false}, "axis": null}}
}
],
"resolve": {"scale": {"y": "independent"}}
}
